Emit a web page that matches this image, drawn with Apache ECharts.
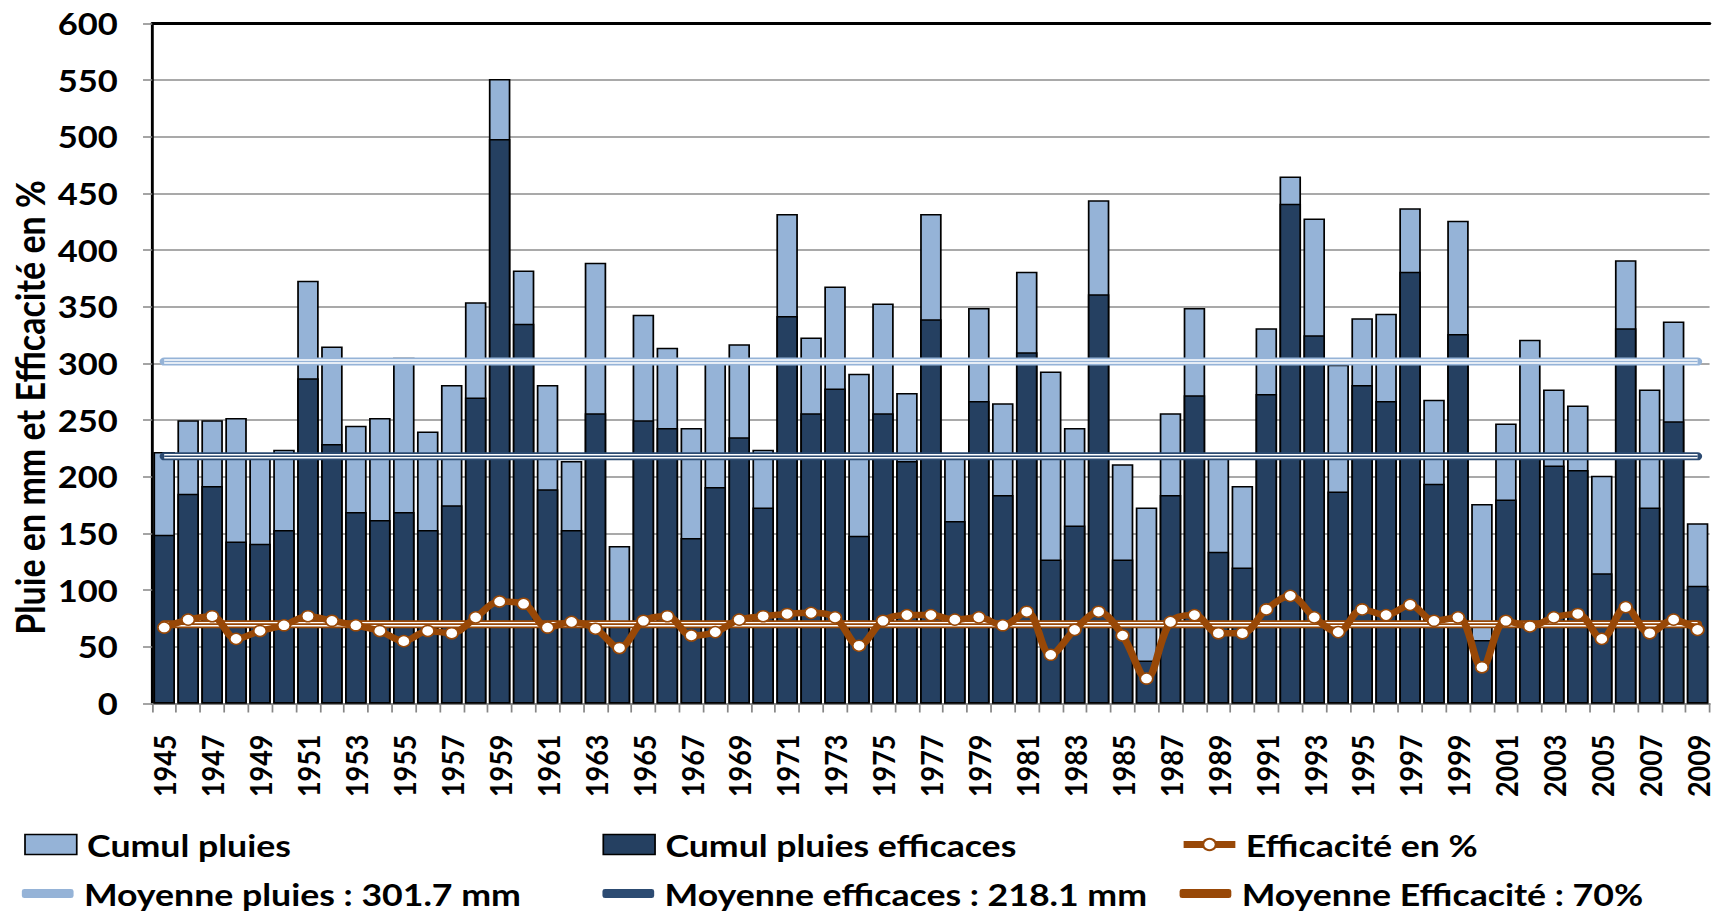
<!DOCTYPE html>
<html>
<head>
<meta charset="utf-8">
<script src="https://cdn.jsdelivr.net/npm/echarts@6/dist/echarts.min.js"></script>
<style>
html,body{margin:0;padding:0;overflow:hidden;background:#fff;width:1713px;height:913px;}
#chart{width:1490px;height:913px;transform:scaleX(1.1497);transform-origin:0 0;}
</style>
</head>
<body>
<div id="chart"></div>
<script>
// ---- data ----
const years = ['1945','1946','1947','1948','1949','1950','1951','1952','1953','1954',
  '1955','1956','1957','1958','1959','1960','1961','1962','1963','1964',
  '1965','1966','1967','1968','1969','1970','1971','1972','1973','1974',
  '1975','1976','1977','1978','1979','1980','1981','1982','1983','1984',
  '1985','1986','1987','1988','1989','1990','1991','1992','1993','1994',
  '1995','1996','1997','1998','1999','2000','2001','2002','2003','2004',
  '2005','2006','2007','2008','2009'];
const cumulPluies = [222,250,250,252,220,224,373,315,245,252,
  305,240,281,354,551,382,281,214,389,139,
  343,314,243,301,317,224,432,323,368,291,
  353,274,432,218,349,265,381,293,243,444,
  211,173,256,349,217,192,331,465,428,299,
  340,344,437,268,426,176,247,321,277,263,
  201,391,277,337,159];
const cumulEfficaces = [149,185,192,143,141,153,287,229,169,162,
  169,153,175,270,498,335,189,153,256,68,
  250,243,146,191,235,173,342,256,278,148,
  256,214,339,161,267,184,310,127,157,361,
  127,38,184,272,134,120,273,441,325,187,
  281,267,381,194,326,56,180,218,210,206,
  115,331,173,249,104];
const efficacite = [67,74,77,57,64,69,77,73,69,64,
  55,64,62,76,90,88,67,72,66,49,
  73,77,60,63,74,77,79,80,76,51,
  73,78,78,74,76,69,81,43,65,81,
  60,22,72,78,62,62,83,95,76,63,
  83,78,87,73,76,32,73,68,76,79,
  57,85,62,74,65];
const meanPluies = 301.7;
const meanEfficaces = 218.1;
const meanEfficacite = 70;
const yTicks = {min: 0, max: 600, interval: 50};

const nameP = 'Cumul pluies';
const nameE = 'Cumul pluies efficaces';
const nameEff = 'Efficacité en %';
const nameMP = 'Moyenne pluies : ' + meanPluies + ' mm';
const nameME = 'Moyenne efficaces : ' + meanEfficaces + ' mm';
const nameMEff = 'Moyenne Efficacité : ' + meanEfficacite + '%';

// ---- style ----
const FONT = 'Lato';
const cLight = '#95B3D7';
const cDark = '#254061';
const cMeanDark = '#2C4B72';
const cBrown = '#984807';

function meanSeries(name, value, color, z) {
  const data = years.map(() => value);
  return [
    {name: name, type: 'line', data: data, symbol: 'none', z: z, silent: true,
     itemStyle: {color: color}, lineStyle: {color: color, width: 8, cap: 'round'}},
    {name: name + '_w', type: 'line', data: data, symbol: 'none', z: z, silent: true,
     lineStyle: {color: '#ffffff', width: 4.5, cap: 'butt'}},
    {name: name + '_c', type: 'line', data: data, symbol: 'none', z: z, silent: true,
     lineStyle: {color: color, width: 1.6, cap: 'butt'}}
  ];
}

function legendAt(name, left, top, extra) {
  return Object.assign({
    data: [name], left: left, top: top, orient: 'horizontal', padding: 0,
    selectedMode: false, itemWidth: 45, itemHeight: 20,
    textStyle: {fontFamily: FONT, fontWeight: 'bold', fontSize: 31, color: '#000', padding: [0, 0, 0, 4]}
  }, extra || {});
}

const chart = echarts.init(document.getElementById('chart'), null, {renderer: 'svg'});
chart.setOption({
  animation: false,
  backgroundColor: '#fff',
  grid: {left: 132.4, top: 23.5, width: 1359.5, height: 680, containLabel: false},
  xAxis: [{
    type: 'category', data: years, boundaryGap: true, position: 'bottom',
    axisLine: {show: true, lineStyle: {color: '#868686', width: 2}},
    axisTick: {show: true, interval: 0, length: 9, lineStyle: {color: '#868686', width: 1.5}},
    axisLabel: {interval: 1, rotate: 90, margin: 31, fontFamily: FONT, fontWeight: 'bold', fontSize: 27, color: '#000'},
    splitLine: {show: false}
  }, {
    type: 'category', data: years, position: 'top',
    axisLine: {show: true, onZero: false, lineStyle: {color: '#000', width: 3}},
    axisTick: {show: false}, axisLabel: {show: false}, splitLine: {show: false}
  }],
  yAxis: {
    type: 'value', min: yTicks.min, max: yTicks.max, interval: yTicks.interval,
    axisLine: {show: true, lineStyle: {color: '#000', width: 2.5}},
    axisTick: {show: true, length: 8, lineStyle: {color: '#868686', width: 1.5}},
    axisLabel: {margin: 30, fontFamily: FONT, fontWeight: 'bold', fontSize: 30, color: '#000'},
    splitLine: {show: true, lineStyle: {color: '#8c8c8c', width: 1.5}}
  },
  legend: [
    legendAt(nameP, 21, 829, {icon: 'rect', itemStyle: {borderColor: '#000', borderWidth: 1.5}}),
    legendAt(nameE, 524, 829, {icon: 'rect', itemStyle: {borderColor: '#000', borderWidth: 1.5}}),
    legendAt(nameEff, 1026, 829, {itemHeight: 14, lineStyle: {width: 7, color: cBrown}}),
    legendAt(nameMP, 19, 878, {icon: 'roundRect', itemHeight: 9}),
    legendAt(nameME, 524, 878, {icon: 'roundRect', itemHeight: 9}),
    legendAt(nameMEff, 1026, 878, {icon: 'roundRect', itemHeight: 9})
  ],
  graphic: [{
    type: 'text', x: 26, y: 407.5, rotation: Math.PI / 2,
    style: {text: 'Pluie en mm et Efficacité en %', fontFamily: FONT, fontWeight: 'bold', fontSize: 34,
            fill: '#000', align: 'center', verticalAlign: 'middle'}
  }],
  series: [
    {name: nameP, type: 'bar', data: cumulPluies, barWidth: '90%', barGap: '-100%', z: 2,
     itemStyle: {color: cLight, borderColor: '#000', borderWidth: 1.5}},
    {name: nameE, type: 'bar', data: cumulEfficaces, barWidth: '90%', barGap: '-100%', z: 2,
     itemStyle: {color: cDark, borderColor: '#000', borderWidth: 1.5}},
    ...meanSeries(nameMP, meanPluies, cLight, 3),
    ...meanSeries(nameME, meanEfficaces, cMeanDark, 3),
    ...meanSeries(nameMEff, meanEfficacite, cBrown, 3),
    {name: nameEff, type: 'line', data: efficacite, smooth: 0.35, z: 5,
     symbol: 'circle', symbolSize: 11,
     lineStyle: {color: cBrown, width: 6.5},
     itemStyle: {color: '#ffffff', borderColor: cBrown, borderWidth: 1.5}}
  ]
});
</script>
</body>
</html>
